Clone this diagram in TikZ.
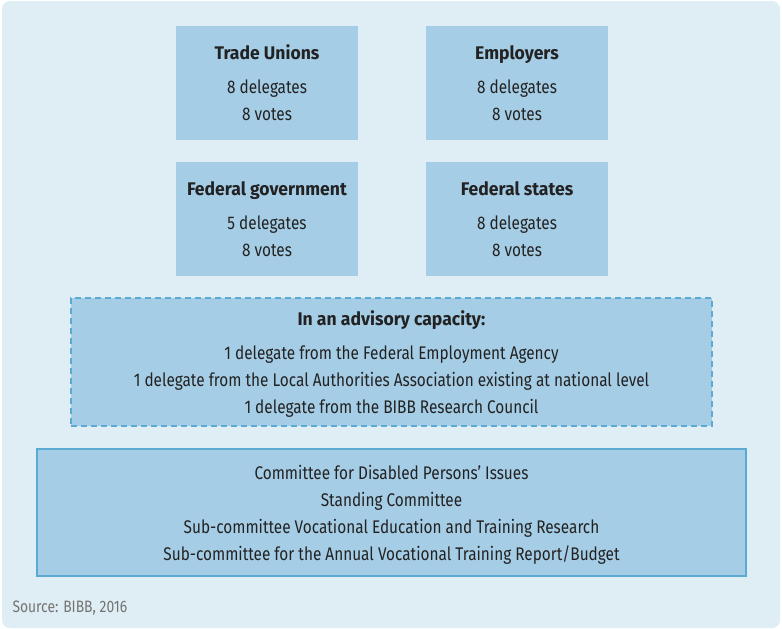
\documentclass[tikz,border=0pt]{standalone}
\usepackage{fontspec}
\setmainfont[FakeStretch=0.84,BoldFeatures={FakeStretch=0.96}]{Fira Sans}
\definecolor{panel}{HTML}{DFEDF4}
\definecolor{boxfill}{HTML}{A6CDE6}
\definecolor{boxline}{HTML}{5AAAD4}
\definecolor{ink}{HTML}{222222}
\newcommand{\topgap}{\rule{0pt}{19pt}}
\begin{document}
\begin{tikzpicture}[x=1pt,y=-1pt]
    \tikzstyle{party}=[fill=boxfill,minimum width=182pt,minimum height=114pt,inner sep=0pt,
                       align=center,text=ink,font=\fontsize{18.3}{27}\selectfont]
    \tikzstyle{advisory}=[party,draw=boxline,line width=1.8pt,dash pattern=on 6pt off 4pt,
                          minimum width=641pt,minimum height=128pt]
    \tikzstyle{committee}=[party,draw=boxline,line width=2pt,
                           minimum width=709pt,minimum height=127pt]

\useasboundingbox (0,0) rectangle (782,629);
\fill[panel,rounded corners=8pt] (2,1) rectangle (780,628);

% Sozialpartner
\node[party] (unions) at (267,83) {\textbf{Trade Unions}\\[7pt]8 delegates\\8 votes};
\node[party] (employers) at (517,83) {\textbf{Employers}\\[7pt]8 delegates\\8 votes};

% Bund und Laender
\node[party] (government) at (267,219) {\textbf{Federal government}\\[7pt]5 delegates\\8 votes};
\node[party] (states) at (517,219) {\textbf{Federal states}\\[7pt]8 delegates\\8 votes};

% Beratend
\node[advisory] (advice) at (391.5,362) {\topgap\textbf{In an advisory capacity:}\\[7pt]
  1 delegate from the Federal Employment Agency\\
  1 delegate from the Local Authorities Association existing at national level\\
  1 delegate from the BIBB Research Council};

% Ausschuesse
\node[committee] (committees) at (391.5,512.5) {\topgap Committee for Disabled Persons' Issues\\
  Standing Committee\\
  Sub-committee Vocational Education and Training Research\\
  Sub-committee for the Annual Vocational Training Report/Budget};

% Quelle
\node[anchor=base west,text=black!55,font=\fontsize{16.5}{18}\selectfont] (source) at (9,612) {Source: BIBB, 2016};

\end{tikzpicture}
\end{document}
